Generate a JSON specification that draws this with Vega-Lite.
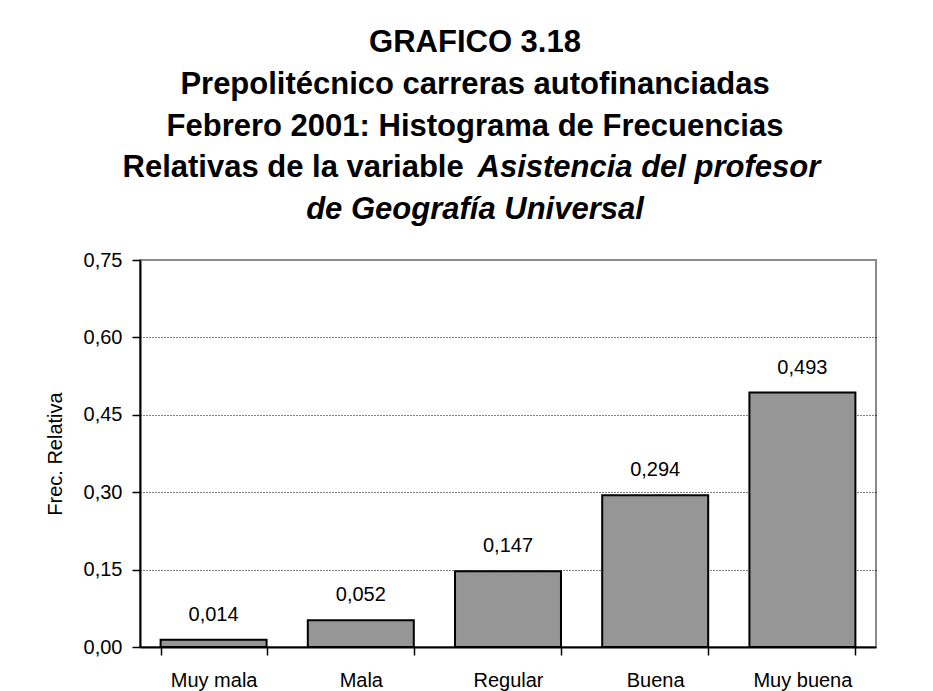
{
  "$schema": "https://vega.github.io/schema/vega-lite/v6.json",
  "width": 736,
  "height": 387,
  "autosize": {"type": "none"},
  "padding": {"left": 140, "top": 260, "right": 57, "bottom": 44},
  "background": "white",
  "title": {
    "text": ["GRAFICO 3.18", "Prepolitécnico carreras autofinanciadas", "Febrero 2001: Histograma de Frecuencias"],
    "subtitle": "de Geografía Universal",
    "font": "Liberation Sans",
    "fontSize": 31,
    "fontWeight": "bold",
    "color": "black",
    "lineHeight": 42,
    "subtitleFont": "Liberation Sans",
    "subtitleFontSize": 31,
    "subtitleFontWeight": "bold",
    "subtitleFontStyle": "italic",
    "subtitleColor": "black",
    "subtitleLineHeight": 42,
    "subtitlePadding": 52,
    "anchor": "middle",
    "dx": -33,
    "offset": -75
  },
  "data": {
    "values": [
      {"categoria": "Muy mala", "frecuencia": 0.014},
      {"categoria": "Mala", "frecuencia": 0.052},
      {"categoria": "Regular", "frecuencia": 0.147},
      {"categoria": "Buena", "frecuencia": 0.294},
      {"categoria": "Muy buena", "frecuencia": 0.493}
    ]
  },
  "layer": [
    {
      "mark": {"type": "bar", "fill": "#969696", "stroke": "black", "strokeWidth": 2},
      "encoding": {
        "x": {
          "field": "categoria",
          "type": "nominal",
          "sort": null,
          "scale": {"paddingInner": 0.28, "paddingOuter": 0.14},
          "axis": {
            "orient": "bottom",
            "labelAngle": 0,
            "labelFont": "Liberation Sans",
            "labelFontSize": 20,
            "labelColor": "black",
            "labelBaseline": "alphabetic",
            "labelPadding": 31,
            "tickBand": "extent",
            "tickSize": 8,
            "tickColor": "black",
            "tickWidth": 1.5,
            "domainColor": "black",
            "domainWidth": 2,
            "grid": false,
            "title": "Relativas de la variable",
            "titleFont": "Liberation Sans",
            "titleFontSize": 31,
            "titleFontWeight": "bold",
            "titleColor": "black",
            "titleAlign": "left",
            "titleBaseline": "alphabetic",
            "titleX": -18,
            "titleY": -471
          }
        },
        "y": {
          "field": "frecuencia",
          "type": "quantitative",
          "scale": {"domain": [0, 0.75]},
          "axis": {
            "orient": "left",
            "values": [0, 0.15, 0.3, 0.45, 0.6, 0.75],
            "format": ".2f",
            "grid": false,
            "labelFont": "Liberation Sans",
            "labelFontSize": 20,
            "labelColor": "black",
            "labelPadding": 10,
            "tickSize": 8,
            "tickColor": "black",
            "tickWidth": 1.5,
            "domainColor": "black",
            "domainWidth": 2,
            "title": "Frec. Relativa",
            "titleFont": "Liberation Sans",
            "titleFontSize": 20,
            "titleFontWeight": "normal",
            "titleColor": "black",
            "titleAngle": 270,
            "titleAlign": "center",
            "titleBaseline": "middle",
            "titleX": -85,
            "titleY": 193.5
          }
        }
      }
    },
    {
      "mark": {"type": "text", "dy": -19, "baseline": "alphabetic", "align": "center", "font": "Liberation Sans", "fontSize": 20, "color": "black"},
      "encoding": {
        "x": {"field": "categoria", "type": "nominal", "sort": null},
        "y": {
          "field": "frecuencia",
          "type": "quantitative",
          "scale": {"domain": [0, 0.75]},
          "axis": {
            "orient": "right",
            "values": [0.15, 0.3, 0.45, 0.6],
            "grid": true,
            "gridColor": "black",
            "gridWidth": 1,
            "gridDash": [1, 2],
            "labels": false,
            "ticks": false,
            "domain": false,
            "title": "Asistencia del profesor",
            "titleFont": "Liberation Sans",
            "titleFontSize": 31,
            "titleFontWeight": "bold",
            "titleFontStyle": "italic",
            "titleColor": "black",
            "titleAngle": 0,
            "titleAlign": "left",
            "titleBaseline": "alphabetic",
            "titleX": -399,
            "titleY": -84
          }
        },
        "text": {"field": "frecuencia", "type": "quantitative", "format": ".3f"}
      }
    }
  ],
  "resolve": {"scale": {"y": "independent"}},
  "config": {
    "locale": {"number": {"decimal": ",", "thousands": ".", "grouping": [3], "currency": ["", " €"]}},
    "view": {"stroke": "#8c8c8c", "strokeWidth": 2}
  }
}
